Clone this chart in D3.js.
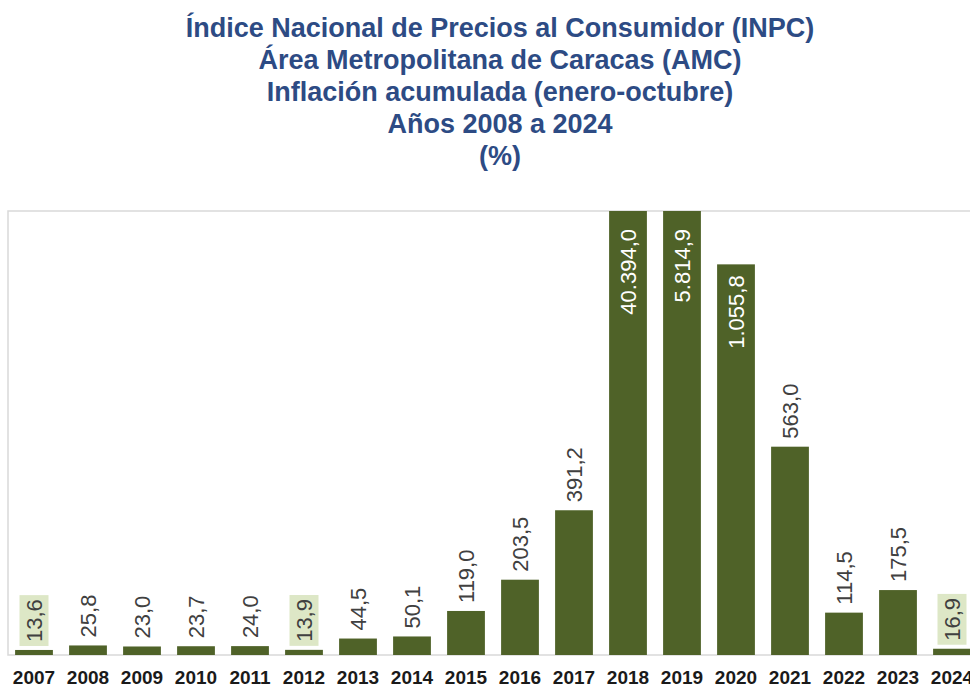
<!DOCTYPE html>
<html>
<head>
<meta charset="utf-8">
<script src="https://cdn.jsdelivr.net/npm/d3@7"></script>
<style>
  body { margin: 0; background: #fff; }
  svg { display: block; font-family: "Liberation Sans", Arial, sans-serif; }
</style>
</head>
<body>
<svg id="chart" width="970" height="688"></svg>
<script>
// datos
var years = ["2007", "2008", "2009", "2010", "2011", "2012", "2013", "2014", "2015",
	"2016", "2017", "2018", "2019", "2020", "2021", "2022", "2023", "2024"];
var inflation = [13.6, 25.8, 23.0, 23.7, 24.0, 13.9, 44.5, 50.1, 119.0,
	203.5, 391.2, 40394.0, 5814.9, 1055.8, 563.0, 114.5, 175.5, 16.9];
var boxedYears = ["2007", "2012", "2024"]; // etiquetas con fondo verde
var titleLines = [
	"Índice Nacional de Precios al Consumidor (INPC)",
	"Área Metropolitana de Caracas (AMC)",
	"Inflación acumulada (enero-octubre)",
	"Años 2008 a 2024",
	"(%)"
];
var yMax = 1200; // eje cortado: 2018 y 2019 salen del área

var svg = d3.select("#chart");
var W = 970, plotLeft = 8, plotTop = 211, base = 655;

var esLocale = d3.formatLocale({ decimal: ",", thousands: ".", grouping: [3], currency: ["", ""] });
var fmt = esLocale.format(",.1f");

// título
svg.append("g").selectAll("text")
	.data(titleLines)
	.enter()
	.append("text")
	.attr("x", 500)
	.attr("y", function(d, i) { return 37 + i * 32; })
	.attr("text-anchor", "middle")
	.style("font-size", "27px")
	.style("font-weight", "bold")
	.style("fill", "#2d4b84")
	.text(function(d) { return d; });

// escalas
var xScale = d3.scaleBand()
	.domain(years)
	.range([7, 979])
	.paddingInner(0.3)
	.paddingOuter(0.15);

var yScale = d3.scaleLinear()
	.domain([0, yMax])
	.range([base, plotTop])
	.clamp(true);

// borde del área
svg.append("path")
	.attr("d", "M" + W + "," + plotTop + "H" + plotLeft + "V" + base + "H" + W)
	.style("fill", "none")
	.style("stroke", "#d9d9d9")
	.style("stroke-width", 1.5);

var data = years.map(function(y, i) { return { year: y, value: inflation[i] }; });

// barras
svg.append("g").selectAll("rect")
	.data(data)
	.enter()
	.append("rect")
	.attr("x", function(d) { return xScale(d.year); })
	.attr("y", function(d) { return yScale(d.value); })
	.attr("width", xScale.bandwidth())
	.attr("height", function(d) { return base - yScale(d.value); })
	.style("fill", "#4f6228");

// etiquetas
var labelG = svg.append("g");
data.forEach(function(d) {
	var cx = xScale(d.year) + xScale.bandwidth() / 2;
	var top = yScale(d.value);
	var inside = base - top > 300;
	var g = labelG.append("g");
	var t = g.append("text")
		.attr("dy", "0.35em")
		.style("font-size", "22px")
		.style("fill", inside ? "#ffffff" : "#404040")
		.text(fmt(d.value));
	var len = t.node().getComputedTextLength();
	var yStart; // extremo inferior del texto
	if (inside) {
		var off = d.value > yMax ? 18 : 11;
		yStart = top + off + len;
	} else {
		yStart = top - 8;
	}
	t.attr("transform", "translate(" + cx + "," + yStart + ") rotate(-90)");
	if (boxedYears.indexOf(d.year) >= 0) {
		g.insert("rect", "text")
			.attr("x", cx - 14.5)
			.attr("y", yStart - len - 4)
			.attr("width", 29)
			.attr("height", len + 8)
			.style("fill", "#dde7c6");
	}
});

// eje x
var xAxis = svg.append("g")
	.attr("transform", "translate(0," + base + ")")
	.call(d3.axisBottom(xScale).tickSize(0).tickPadding(16));
xAxis.select(".domain").remove();
xAxis.selectAll("text")
	.style("font-family", "'Liberation Sans', Arial, sans-serif")
	.style("font-size", "19px")
	.style("font-weight", "bold")
	.style("fill", "#1a1a1a");
</script>
</body>
</html>
